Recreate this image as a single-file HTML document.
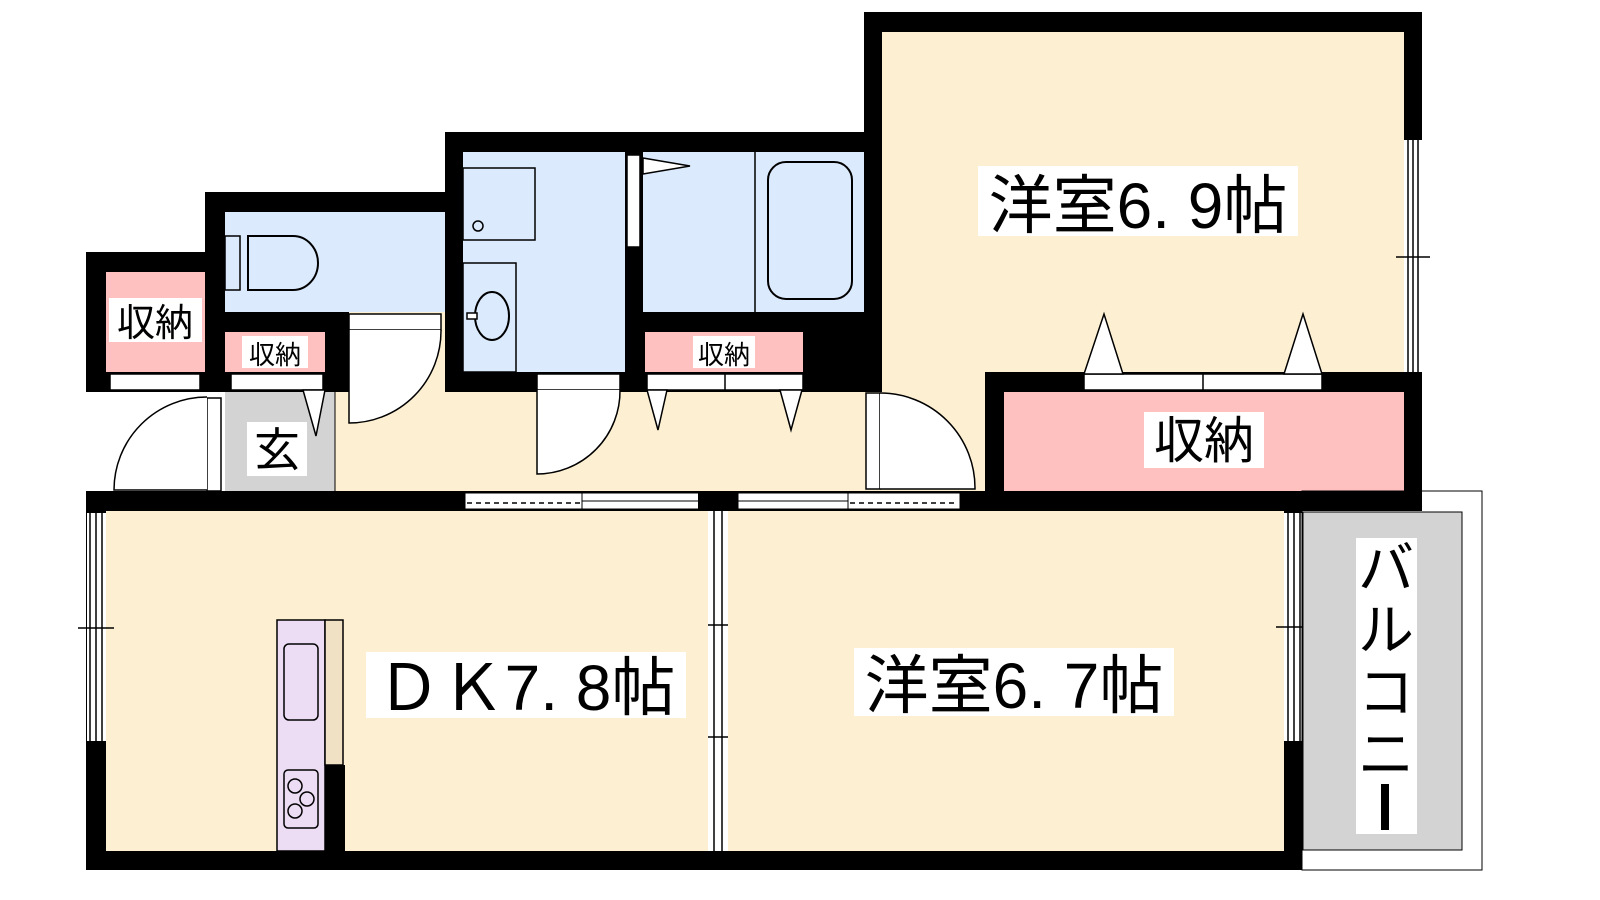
<!DOCTYPE html>
<html><head><meta charset="utf-8"><style>
html,body{margin:0;padding:0;background:#fff;}
svg{display:block}
text{font-family:"Liberation Sans","Noto Sans CJK JP",sans-serif;fill:#000}
</style></head><body>
<svg width="1600" height="900" viewBox="0 0 1600 900" xmlns="http://www.w3.org/2000/svg">
<!-- corridor floor -->
<rect x="225" y="372" width="760" height="125" fill="#fdf0d2"/>
<!-- 洋室6.9 -->
<rect x="864" y="12" width="558" height="380" fill="#000"/>
<rect x="882" y="32" width="522" height="345" fill="#fdf0d2"/>
<rect x="864" y="372" width="121" height="125" fill="#fdf0d2"/>
<rect x="864" y="372" width="18" height="20" fill="#000"/>
<!-- right window of 6.9 -->
<rect x="1404" y="140" width="18" height="232" fill="#fff"/>
<line x1="1408" y1="140" x2="1408" y2="372" stroke="#000" stroke-width="1.5"/>
<line x1="1413" y1="140" x2="1413" y2="372" stroke="#000" stroke-width="1.5"/>
<line x1="1418" y1="140" x2="1418" y2="372" stroke="#000" stroke-width="1.5"/>
<line x1="1396" y1="257" x2="1430" y2="257" stroke="#000" stroke-width="1.5"/>
<!-- bath block -->
<rect x="445" y="132" width="437" height="260" fill="#000"/>
<rect x="463" y="152" width="162" height="220" fill="#dbeafc"/>
<rect x="643" y="152" width="221" height="160" fill="#dbeafc"/>
<line x1="755" y1="152" x2="755" y2="312" stroke="#000" stroke-width="1.5"/>
<rect x="768" y="162" width="84" height="137" rx="18" fill="none" stroke="#000" stroke-width="2"/>
<rect x="627" y="155" width="13" height="92" fill="#fff" stroke="#000" stroke-width="1.5"/>
<polygon points="643,158 690,166 643,174" fill="#fff" stroke="#000" stroke-width="1.5"/>
<rect x="463" y="168" width="72" height="72" fill="none" stroke="#000" stroke-width="1.5"/>
<circle cx="478" cy="226" r="5" fill="none" stroke="#000" stroke-width="1.5"/>
<rect x="463" y="263" width="53" height="109" fill="none" stroke="#000" stroke-width="1.5"/>
<ellipse cx="492" cy="316" rx="17" ry="24" fill="none" stroke="#000" stroke-width="2"/>
<rect x="467" y="313" width="10" height="6" fill="#fff" stroke="#000" stroke-width="1.5"/>
<!-- storage under bath -->
<rect x="645" y="332" width="158" height="40" fill="#ffc0c0"/>
<rect x="693" y="336" width="62" height="32" fill="#fff"/>
<text x="724" y="364" font-size="26" text-anchor="middle">収納</text>
<rect x="647" y="374" width="156" height="16" fill="#fff" stroke="#000" stroke-width="1.5"/>
<line x1="725" y1="374" x2="725" y2="390" stroke="#000" stroke-width="1.5"/>
<polygon points="647,390 667,390 658,430" fill="#fff" stroke="#000" stroke-width="1.5"/>
<polygon points="780,390 802,390 791,430" fill="#fff" stroke="#000" stroke-width="1.5"/>
<!-- washroom door -->
<rect x="537" y="374" width="83" height="16" fill="#fff" stroke="#000" stroke-width="1.5"/>
<path d="M537,390 L537,474 A83,83 0 0 0 620,390" fill="#fff" stroke="#000" stroke-width="1.5"/>
<!-- toilet block -->
<rect x="205" y="192" width="240" height="200" fill="#000"/>
<rect x="225" y="212" width="220" height="100" fill="#dbeafc"/>
<rect x="225" y="236" width="15" height="54" fill="none" stroke="#000" stroke-width="1.5"/>
<path d="M248,236 L293,236 A25,27 0 0 1 293,290 L248,290 Z" fill="none" stroke="#000" stroke-width="2"/>
<rect x="349" y="312" width="96" height="80" fill="#fdf0d2"/>
<rect x="349" y="314" width="92" height="16" fill="#fff" stroke="#000" stroke-width="1.5"/>
<path d="M349,330 L349,423 A92,92 0 0 0 441,330" fill="#fff" stroke="#000" stroke-width="1.5"/>
<!-- small 収納 -->
<rect x="225" y="332" width="100" height="40" fill="#ffc0c0"/>
<rect x="242" y="336" width="66" height="32" fill="#fff"/>
<text x="275" y="364" font-size="26" text-anchor="middle">収納</text>
<rect x="231" y="374" width="92" height="16" fill="#fff" stroke="#000" stroke-width="1.5"/>
<!-- left 収納 -->
<rect x="86" y="252" width="125" height="140" fill="#000"/>
<rect x="106" y="272" width="99" height="100" fill="#ffc0c0"/>
<rect x="109" y="298" width="93" height="44" fill="#fff"/>
<text x="155" y="336" font-size="38" text-anchor="middle">収納</text>
<rect x="110" y="374" width="90" height="16" fill="#fff" stroke="#000" stroke-width="1.5"/>
<!-- genkan -->
<rect x="225" y="392" width="110" height="99" fill="#d3d3d3"/>
<line x1="335" y1="390" x2="335" y2="491" stroke="#000" stroke-width="1"/>
<rect x="247" y="422" width="60" height="54" fill="#fff"/>
<text x="277" y="466" font-size="46" text-anchor="middle">玄</text>
<polygon points="303,390 325,390 316,436" fill="#fff" stroke="#000" stroke-width="1.5"/>
<!-- entrance door -->
<rect x="207" y="398" width="14" height="93" fill="#fff" stroke="#000" stroke-width="1.5"/>
<path d="M207,397 A93,93 0 0 0 114,490 L207,490" fill="#fff" stroke="#000" stroke-width="1.5"/>
<!-- 6.9 door -->
<rect x="866" y="393" width="14" height="96" fill="#fff" stroke="#000" stroke-width="1.5"/>
<path d="M880,393 A95,95 0 0 1 975,489 L880,489" fill="#fff" stroke="#000" stroke-width="1.5"/>
<!-- big 収納 -->
<rect x="985" y="372" width="437" height="139" fill="#000"/>
<rect x="1004" y="392" width="400" height="99" fill="#ffc0c0"/>
<rect x="1144" y="412" width="120" height="56" fill="#fff"/>
<text x="1204" y="458" font-size="50" text-anchor="middle">収納</text>
<rect x="1084" y="374" width="238" height="16" fill="#fff" stroke="#000" stroke-width="1.5"/>
<line x1="1203" y1="374" x2="1203" y2="390" stroke="#000" stroke-width="1.5"/>
<polygon points="1084,374 1123,374 1104,314" fill="#fff" stroke="#000" stroke-width="1.5"/>
<polygon points="1284,374 1322,374 1303,314" fill="#fff" stroke="#000" stroke-width="1.5"/>
<!-- main bottom block -->
<rect x="86" y="491" width="1216" height="379" fill="#000"/>
<rect x="106" y="511" width="602" height="340" fill="#fdf0d2"/>
<rect x="728" y="511" width="556" height="340" fill="#fdf0d2"/>
<!-- partition between DK and 6.7 -->
<rect x="708" y="511" width="20" height="340" fill="#fff"/>
<line x1="714" y1="511" x2="714" y2="851" stroke="#000" stroke-width="1.5"/>
<line x1="722" y1="511" x2="722" y2="851" stroke="#000" stroke-width="1.5"/>
<line x1="708" y1="625" x2="728" y2="625" stroke="#000" stroke-width="1.5"/>
<line x1="708" y1="737" x2="728" y2="737" stroke="#000" stroke-width="1.5"/>
<!-- top sliding doors -->
<rect x="465" y="493" width="243" height="16" fill="#fff" stroke="#000" stroke-width="1"/>
<line x1="467" y1="503" x2="580" y2="503" stroke="#000" stroke-width="1.5" stroke-dasharray="5,4"/>
<line x1="582" y1="493" x2="582" y2="509" stroke="#000" stroke-width="1"/>
<line x1="582" y1="501" x2="698" y2="501" stroke="#000" stroke-width="1"/>
<rect x="698" y="491" width="40" height="20" fill="#000"/>
<rect x="738" y="493" width="222" height="16" fill="#fff" stroke="#000" stroke-width="1"/>
<line x1="738" y1="501" x2="848" y2="501" stroke="#000" stroke-width="1"/>
<line x1="848" y1="493" x2="848" y2="509" stroke="#000" stroke-width="1"/>
<line x1="850" y1="503" x2="958" y2="503" stroke="#000" stroke-width="1.5" stroke-dasharray="5,4"/>
<!-- DK left window -->
<rect x="87" y="513" width="19" height="228" fill="#fff"/>
<line x1="90" y1="513" x2="90" y2="741" stroke="#000" stroke-width="1.5"/>
<line x1="96" y1="513" x2="96" y2="741" stroke="#000" stroke-width="1.5"/>
<line x1="102" y1="513" x2="102" y2="741" stroke="#000" stroke-width="1.5"/>
<line x1="78" y1="628" x2="114" y2="628" stroke="#000" stroke-width="1.5"/>
<!-- 6.7 right window -->
<rect x="1284" y="513" width="19" height="228" fill="#fff"/>
<line x1="1288" y1="513" x2="1288" y2="741" stroke="#000" stroke-width="1.5"/>
<line x1="1294" y1="513" x2="1294" y2="741" stroke="#000" stroke-width="1.5"/>
<line x1="1300" y1="513" x2="1300" y2="741" stroke="#000" stroke-width="1.5"/>
<line x1="1276" y1="627" x2="1310" y2="627" stroke="#000" stroke-width="1.5"/>
<!-- kitchen -->
<rect x="277" y="620" width="48" height="231" fill="#ecdcf4" stroke="#000" stroke-width="1.5"/>
<rect x="325" y="620" width="18" height="145" fill="#f0e0c4" stroke="#000" stroke-width="1.5"/>
<rect x="325" y="765" width="20" height="86" fill="#000"/>
<rect x="284" y="644" width="34" height="76" rx="5" fill="none" stroke="#000" stroke-width="1.5"/>
<rect x="284" y="770" width="34" height="58" rx="4" fill="none" stroke="#000" stroke-width="1.5"/>
<circle cx="295" cy="786" r="7" fill="none" stroke="#000" stroke-width="1.5"/>
<circle cx="307" cy="799" r="7" fill="none" stroke="#000" stroke-width="1.5"/>
<circle cx="295" cy="811" r="7" fill="none" stroke="#000" stroke-width="1.5"/>
<!-- balcony -->
<rect x="1302" y="491" width="180" height="379" fill="none" stroke="#000" stroke-width="1"/>
<rect x="1303" y="512" width="159" height="338" fill="#d3d3d3" stroke="#000" stroke-width="1"/>
<rect x="1356" y="538" width="61" height="296" fill="#fff"/>
<text x="1386" y="588" font-size="56" text-anchor="middle">バ</text>
<text x="1386" y="650" font-size="56" text-anchor="middle">ル</text>
<text x="1386" y="712" font-size="56" text-anchor="middle">コ</text>
<text x="1386" y="774" font-size="56" text-anchor="middle">ニ</text>
<rect x="1381" y="784" width="8" height="46" fill="#000"/>
<!-- labels -->
<rect x="978" y="166" width="320" height="70" fill="#fff"/>
<text x="1138" y="228" font-size="64" text-anchor="middle">洋室6. 9帖</text>
<rect x="366" y="652" width="320" height="66" fill="#fff"/>
<text x="526" y="710" font-size="64" text-anchor="middle">ＤＫ7. 8帖</text>
<rect x="854" y="648" width="320" height="68" fill="#fff"/>
<text x="1014" y="708" font-size="64" text-anchor="middle">洋室6. 7帖</text>
</svg>
</body></html>
